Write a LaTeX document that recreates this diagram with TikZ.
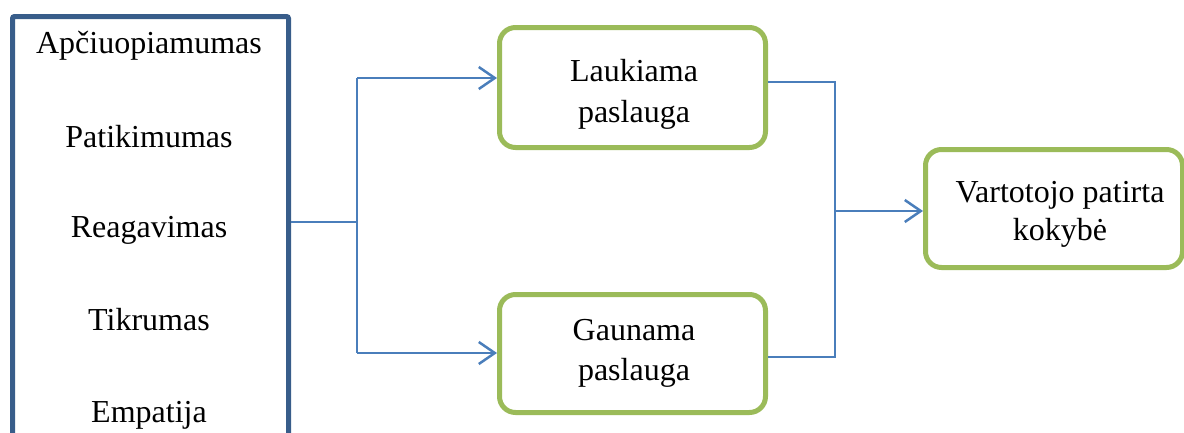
\documentclass[tikz,border=0pt]{standalone}
\usepackage{fontspec}
\setmainfont{Liberation Serif}
\usetikzlibrary{arrows.meta}
\definecolor{frameblue}{HTML}{385D8A}
\definecolor{boxgreen}{HTML}{9BBB59}
\definecolor{linkblue}{HTML}{4A7EBB}
\begin{document}
\begin{tikzpicture}[x=1pt,y=-1pt,
  dimbox/.style={draw=frameblue,line width=5pt,rectangle,rounded corners=2pt,
    anchor=north west,inner sep=0pt},
  greenbox/.style={draw=boxgreen,line width=5pt,rectangle,rounded corners=16pt,
    anchor=north west,inner sep=0pt},
  label/.style={anchor=base,inner sep=0pt,font=\fontsize{32}{40}\selectfont},
  link/.style={draw=linkblue,line width=2.5pt},
  arrowlink/.style={link,-{Straight Barb[length=16pt,width=22pt,line width=2.5pt]}}]
\useasboundingbox (0,0) rectangle (1184,432);
\clip (0,0) rectangle (1184,432);

% dimensions column (runs off the bottom edge)
\node[dimbox,minimum width=276pt,minimum height=470pt] (dims) at (10,14) {};
\node[label] (d1) at (149,53) {Apčiuopiamumas};
\node[label] (d2) at (149,147) {Patikimumas};
\node[label] (d3) at (149,237) {Reagavimas};
\node[label] (d4) at (149,330) {Tikrumas};
\node[label] (d5) at (149,422) {Empatija};

% service boxes
\node[greenbox,minimum width=266pt,minimum height=120pt] (lauk) at (497,25) {};
\node[label] (l1) at (634,81) {Laukiama};
\node[label] (l2) at (634,122) {paslauga};

\node[greenbox,minimum width=266pt,minimum height=118pt] (gaun) at (497,292) {};
\node[label] (g1) at (634,340) {Gaunama};
\node[label] (g2) at (634,380) {paslauga};

\node[greenbox,minimum width=257pt,minimum height=118pt] (vart) at (923,147) {};
\node[label] (v1) at (1060,202) {Vartotojo patirta};
\node[label] (v2) at (1060,240) {kokybė};

% junction points
\coordinate (split) at (357,222);
\coordinate (jl) at (357,78);
\coordinate (jg) at (357,353);
\coordinate (ml) at (835,82);
\coordinate (mg) at (835,357);
\coordinate (merge) at (835,211);

% connectors
\draw[link] (dims.east |- split) -- (split);
\draw[link] (jl) -- (jg);
\draw[arrowlink] (jl) -- (lauk.west |- jl);
\draw[arrowlink] (jg) -- (gaun.west |- jg);
\draw[link] (lauk.east |- ml) -- (ml) -- (mg) -- (gaun.east |- mg);
\draw[arrowlink] (merge) -- (vart.west |- merge);
\end{tikzpicture}
\end{document}
